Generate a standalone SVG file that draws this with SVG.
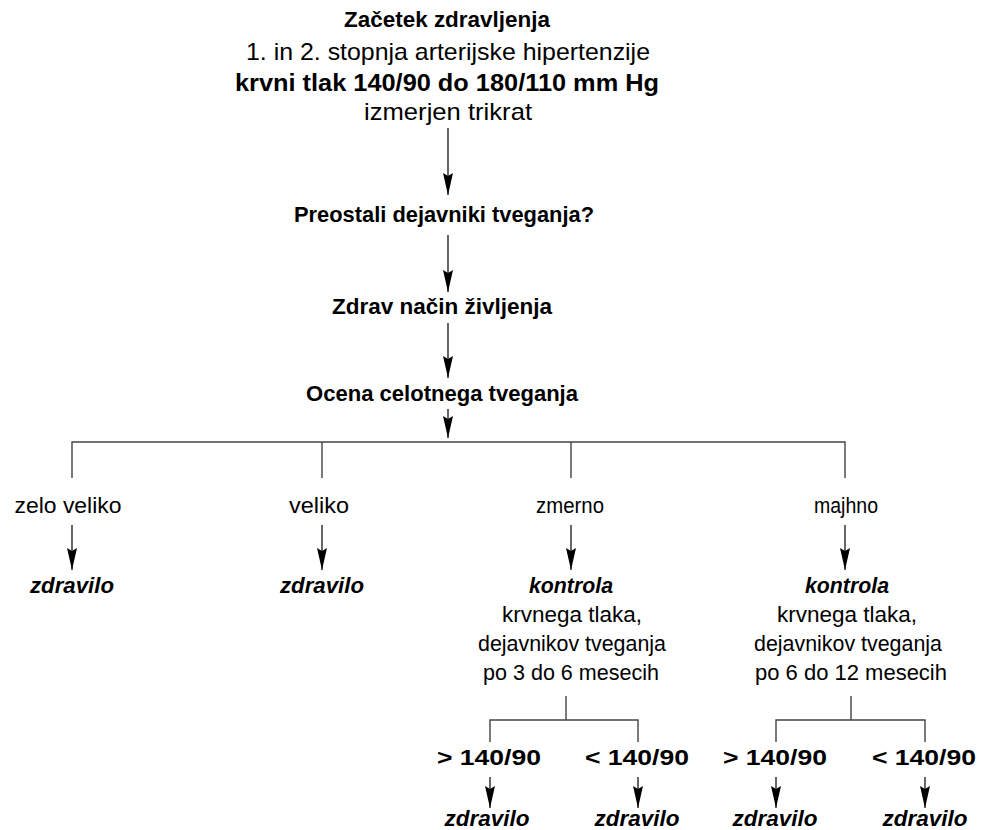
<svg xmlns="http://www.w3.org/2000/svg" width="984" height="830" viewBox="0 0 984 830">
<style>
text{font-family:"Liberation Sans",Arial,sans-serif;font-size:22px;fill:#000;text-anchor:middle}
.t{font-size:24px}
.b{font-weight:bold}
.bi{font-weight:bold;font-style:italic}
.ln{stroke:#444;stroke-width:1.4;fill:none}
.ar{stroke:#000;stroke-width:1.2;fill:none;marker-end:url(#ah)}
</style>
<defs>
<marker id="ah" markerWidth="22" markerHeight="10" refX="22" refY="5" orient="auto" markerUnits="userSpaceOnUse" viewBox="0 0 22 10">
<path d="M0,0 L22,5 L0,10 L3,5 Z" fill="#000"/>
</marker>
</defs>
<rect width="984" height="830" fill="#fff"/>
<g id="connectors">
<line class="ar" x1="448" y1="128" x2="448" y2="195"/>
<line class="ar" x1="448" y1="235" x2="448" y2="292"/>
<line class="ar" x1="448" y1="323" x2="448" y2="378"/>
<line class="ar" x1="448" y1="409" x2="448" y2="438"/>
<path class="ln" d="M72,478 V442 H845 V478 M322,442 V478 M571,442 V478"/>
<line class="ar" x1="72" y1="525" x2="72" y2="570"/>
<line class="ar" x1="322" y1="525" x2="322" y2="570"/>
<line class="ar" x1="571" y1="525" x2="571" y2="570"/>
<line class="ar" x1="845" y1="525" x2="845" y2="570"/>
<path class="ln" d="M566,696 V720 M490,742 V720 H638 V742"/>
<path class="ln" d="M851,696 V720 M776,742 V720 H925 V742"/>
<line class="ar" x1="490" y1="777" x2="490" y2="808"/>
<line class="ar" x1="638" y1="777" x2="638" y2="808"/>
<line class="ar" x1="776" y1="777" x2="776" y2="808"/>
<line class="ar" x1="925" y1="777" x2="925" y2="808"/>
</g>
<g id="start">
<text class="b" x="447" y="27" textLength="206" lengthAdjust="spacingAndGlyphs">Začetek zdravljenja</text>
<text class="t" x="448" y="60" textLength="404" lengthAdjust="spacingAndGlyphs">1. in 2. stopnja arterijske hipertenzije</text>
<text class="t b" x="447" y="91" textLength="424" lengthAdjust="spacingAndGlyphs">krvni tlak 140/90 do 180/110 mm Hg</text>
<text class="t" x="448" y="120" textLength="168" lengthAdjust="spacingAndGlyphs">izmerjen trikrat</text>
</g>
<g id="risk-factors">
<text class="b" x="444" y="222" textLength="300" lengthAdjust="spacingAndGlyphs">Preostali dejavniki tveganja?</text>
</g>
<g id="lifestyle">
<text class="b" x="442" y="314" textLength="220" lengthAdjust="spacingAndGlyphs">Zdrav način življenja</text>
</g>
<g id="assessment">
<text class="b" x="442" y="401" textLength="272" lengthAdjust="spacingAndGlyphs">Ocena celotnega tveganja</text>
</g>
<g id="very-high">
<text x="68" y="513" textLength="107" lengthAdjust="spacingAndGlyphs">zelo veliko</text>
<text class="bi" x="72" y="593" textLength="84" lengthAdjust="spacingAndGlyphs">zdravilo</text>
</g>
<g id="high">
<text x="319" y="513" textLength="60" lengthAdjust="spacingAndGlyphs">veliko</text>
<text class="bi" x="322" y="593" textLength="84" lengthAdjust="spacingAndGlyphs">zdravilo</text>
</g>
<g id="moderate">
<text x="570" y="513" textLength="68" lengthAdjust="spacingAndGlyphs">zmerno</text>
<text class="bi" x="571" y="593" textLength="84" lengthAdjust="spacingAndGlyphs">kontrola</text>
<text x="572" y="622" textLength="140" lengthAdjust="spacingAndGlyphs">krvnega tlaka,</text>
<text x="572" y="651" textLength="188" lengthAdjust="spacingAndGlyphs">dejavnikov tveganja</text>
<text x="571" y="680" textLength="176" lengthAdjust="spacingAndGlyphs">po 3 do 6 mesecih</text>
</g>
<g id="low">
<text x="846" y="513" textLength="64" lengthAdjust="spacingAndGlyphs">majhno</text>
<text class="bi" x="847" y="593" textLength="84" lengthAdjust="spacingAndGlyphs">kontrola</text>
<text x="847" y="622" textLength="140" lengthAdjust="spacingAndGlyphs">krvnega tlaka,</text>
<text x="848" y="651" textLength="188" lengthAdjust="spacingAndGlyphs">dejavnikov tveganja</text>
<text x="851" y="680" textLength="192" lengthAdjust="spacingAndGlyphs">po 6 do 12 mesecih</text>
</g>
<g id="mod-above">
<text class="b" x="489" y="765" textLength="104" lengthAdjust="spacingAndGlyphs">&gt; 140/90</text>
<text class="bi" x="487" y="826" textLength="85" lengthAdjust="spacingAndGlyphs">zdravilo</text>
</g>
<g id="mod-below">
<text class="b" x="637" y="765" textLength="104" lengthAdjust="spacingAndGlyphs">&lt; 140/90</text>
<text class="bi" x="637" y="826" textLength="85" lengthAdjust="spacingAndGlyphs">zdravilo</text>
</g>
<g id="low-above">
<text class="b" x="775" y="765" textLength="104" lengthAdjust="spacingAndGlyphs">&gt; 140/90</text>
<text class="bi" x="775" y="826" textLength="85" lengthAdjust="spacingAndGlyphs">zdravilo</text>
</g>
<g id="low-below">
<text class="b" x="924" y="765" textLength="104" lengthAdjust="spacingAndGlyphs">&lt; 140/90</text>
<text class="bi" x="925" y="826" textLength="85" lengthAdjust="spacingAndGlyphs">zdravilo</text>
</g>
</svg>
